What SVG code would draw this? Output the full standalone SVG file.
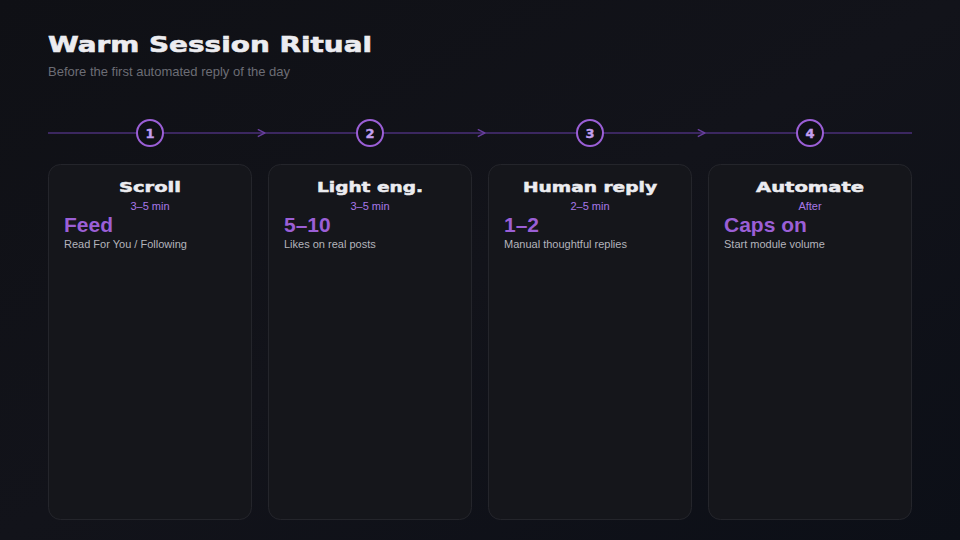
<svg xmlns="http://www.w3.org/2000/svg" width="960" height="540" viewBox="0 0 960 540">
<defs>
<linearGradient id="bg" x1="0" y1="0" x2="1" y2="1">
<stop offset="0" stop-color="#0f1015"/>
<stop offset="0.5" stop-color="#12131a"/>
<stop offset="1" stop-color="#0c0f17"/>
</linearGradient>
<marker id="arr" viewBox="0 0 10 10" refX="9" refY="5" markerWidth="9" markerHeight="9" markerUnits="userSpaceOnUse" orient="auto">
<path d="M1,1 L9,5 L1,9" fill="none" stroke="#6a3fa0" stroke-width="1.6"/>
</marker>
<style>
.card{fill:#15161b;stroke:#24252b;stroke-width:1}
.step{fill:#0f1015;stroke:#9b5fd6;stroke-width:2}
.num{font-family:"DejaVu Sans",sans-serif;font-weight:bold;font-size:13px;fill:#c29ef0;stroke:#c29ef0;stroke-width:0.4;text-anchor:middle}
.title{font-family:"DejaVu Sans",sans-serif;font-weight:bold;font-size:14px;fill:#ececf0;stroke:#ececf0;stroke-width:0.5;text-anchor:middle}
.time{font-family:"Liberation Sans",Arial,sans-serif;font-size:11px;fill:#a878e8;text-anchor:middle}
.big{font-family:"Liberation Sans",Arial,sans-serif;font-weight:bold;font-size:21px;fill:#9b5fd6}
.desc{font-family:"Liberation Sans",Arial,sans-serif;font-size:11px;fill:#b4b4bc}
.line{stroke:#4a2f78;stroke-width:1.5;fill:none}
</style>
</defs>
<rect width="960" height="540" fill="url(#bg)"/>
<text x="48" y="52" font-family="DejaVu Sans, sans-serif" font-weight="bold" font-size="22" fill="#ececf0" stroke="#ececf0" stroke-width="0.6" textLength="324" lengthAdjust="spacingAndGlyphs">Warm Session Ritual</text>
<text x="48" y="76" font-family="Liberation Sans, Arial, sans-serif" font-size="13" fill="#6c6d75">Before the first automated reply of the day</text>
<g id="connectors">
<line class="line" x1="48" y1="133" x2="137" y2="133"/>
<line class="line" x1="163" y1="133" x2="265" y2="133" marker-end="url(#arr)"/>
<line class="line" x1="265" y1="133" x2="357" y2="133"/>
<line class="line" x1="383" y1="133" x2="485" y2="133" marker-end="url(#arr)"/>
<line class="line" x1="485" y1="133" x2="577" y2="133"/>
<line class="line" x1="603" y1="133" x2="705" y2="133" marker-end="url(#arr)"/>
<line class="line" x1="705" y1="133" x2="797" y2="133"/>
<line class="line" x1="823" y1="133" x2="912" y2="133"/>
</g>
<g id="step1">
<circle class="step" cx="150" cy="133" r="13"/>
<text class="num" x="150" y="138">1</text>
<rect class="card" x="48.5" y="164.5" width="203" height="355" rx="12"/>
<text class="title" x="150" y="192" textLength="62" lengthAdjust="spacingAndGlyphs">Scroll</text>
<text class="time" x="150" y="210">3–5 min</text>
<text class="big" x="64" y="232">Feed</text>
<text class="desc" x="64" y="248">Read For You / Following</text>
</g>
<g id="step2">
<circle class="step" cx="370" cy="133" r="13"/>
<text class="num" x="370" y="138">2</text>
<rect class="card" x="268.5" y="164.5" width="203" height="355" rx="12"/>
<text class="title" x="370" y="192" textLength="106" lengthAdjust="spacingAndGlyphs">Light eng.</text>
<text class="time" x="370" y="210">3–5 min</text>
<text class="big" x="284" y="232">5–10</text>
<text class="desc" x="284" y="248">Likes on real posts</text>
</g>
<g id="step3">
<circle class="step" cx="590" cy="133" r="13"/>
<text class="num" x="590" y="138">3</text>
<rect class="card" x="488.5" y="164.5" width="203" height="355" rx="12"/>
<text class="title" x="590" y="192" textLength="134" lengthAdjust="spacingAndGlyphs">Human reply</text>
<text class="time" x="590" y="210">2–5 min</text>
<text class="big" x="504" y="232">1–2</text>
<text class="desc" x="504" y="248">Manual thoughtful replies</text>
</g>
<g id="step4">
<circle class="step" cx="810" cy="133" r="13"/>
<text class="num" x="810" y="138">4</text>
<rect class="card" x="708.5" y="164.5" width="203" height="355" rx="12"/>
<text class="title" x="810" y="192" textLength="108" lengthAdjust="spacingAndGlyphs">Automate</text>
<text class="time" x="810" y="210">After</text>
<text class="big" x="724" y="232">Caps on</text>
<text class="desc" x="724" y="248">Start module volume</text>
</g>
</svg>
